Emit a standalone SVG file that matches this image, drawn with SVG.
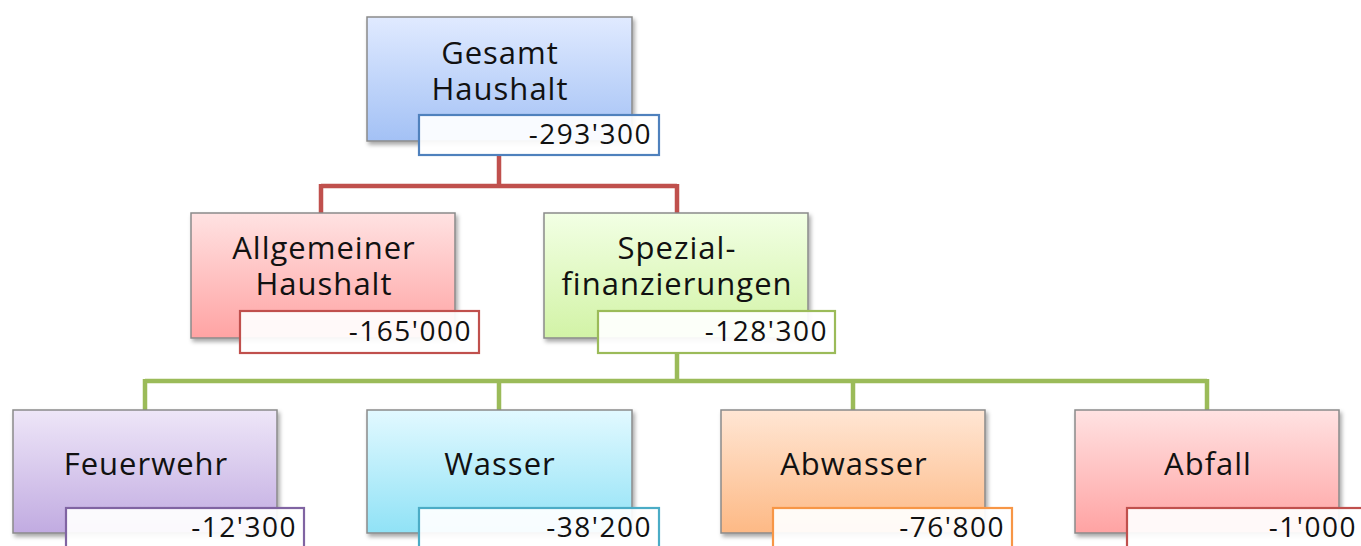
<svg xmlns="http://www.w3.org/2000/svg" width="1361" height="546" viewBox="0 0 1361 546">
<defs>
<linearGradient id="gBlue" x1="0" y1="0" x2="0" y2="1"><stop offset="0" stop-color="#e0eaff"/><stop offset="1" stop-color="#a3c1f5"/></linearGradient>
<linearGradient id="gRed" x1="0" y1="0" x2="0" y2="1"><stop offset="0" stop-color="#ffe2e2"/><stop offset="1" stop-color="#ffa3a3"/></linearGradient>
<linearGradient id="gGreen" x1="0" y1="0" x2="0" y2="1"><stop offset="0" stop-color="#f2ffe4"/><stop offset="1" stop-color="#d2f3a6"/></linearGradient>
<linearGradient id="gPurple" x1="0" y1="0" x2="0" y2="1"><stop offset="0" stop-color="#eee6f8"/><stop offset="1" stop-color="#c1abe1"/></linearGradient>
<linearGradient id="gCyan" x1="0" y1="0" x2="0" y2="1"><stop offset="0" stop-color="#e2f9ff"/><stop offset="1" stop-color="#90e2f6"/></linearGradient>
<linearGradient id="gOrange" x1="0" y1="0" x2="0" y2="1"><stop offset="0" stop-color="#ffe6d4"/><stop offset="1" stop-color="#fdb985"/></linearGradient>
<filter id="sh" x="-10%" y="-10%" width="130%" height="130%"><feDropShadow dx="2" dy="3" stdDeviation="2" flood-color="#000" flood-opacity="0.35"/></filter>
</defs>
<style>
.box{stroke:#8a8a8a;stroke-width:1.5;filter:url(#sh)}
.lbl{stroke-width:2.2;fill:#ffffff;fill-opacity:0.93}
.t{font-family:"Open Sans","Noto Sans",sans-serif;font-size:31px;letter-spacing:1px;fill:#111;text-anchor:middle}
.v{font-family:"Open Sans","Noto Sans",sans-serif;font-size:28px;letter-spacing:1.5px;fill:#111;text-anchor:end}
.red{fill:none;stroke:#c0504d;stroke-width:4.5}
.grn{fill:none;stroke:#9bbb59;stroke-width:4.5}
</style>
<g id="connectors">
<path class="red" d="M499 155 V186 M321 186 H677 M321 184 V213 M677 184 V213"/>
<path class="grn" d="M677 353 V381 M145 381 H1207 M145 379 V410 M499 379 V410 M853 379 V410 M1207 379 V410"/>
</g>
<g id="n-gesamt">
<rect class="box" x="367" y="17" width="265" height="124" fill="url(#gBlue)"/>
<text class="t" x="500" y="64">Gesamt</text>
<text class="t" x="500" y="100">Haushalt</text>
<rect class="lbl" x="419" y="115" width="240" height="40" stroke="#4f81bd"/>
<text class="v" x="652" y="144">-293'300</text>
</g>
<g id="n-allgemein">
<rect class="box" x="191" y="213" width="264" height="125" fill="url(#gRed)"/>
<text class="t" x="324" y="259">Allgemeiner</text>
<text class="t" x="324" y="295">Haushalt</text>
<rect class="lbl" x="240" y="311" width="239" height="42" stroke="#c0504d"/>
<text class="v" x="472" y="341">-165'000</text>
</g>
<g id="n-spezial">
<rect class="box" x="544" y="213" width="264" height="125" fill="url(#gGreen)"/>
<text class="t" x="677" y="259">Spezial-</text>
<text class="t" x="677" y="295">finanzierungen</text>
<rect class="lbl" x="598" y="311" width="237" height="42" stroke="#9bbb59"/>
<text class="v" x="828" y="341">-128'300</text>
</g>
<g id="n-feuerwehr">
<rect class="box" x="13" y="410" width="264" height="123" fill="url(#gPurple)"/>
<text class="t" x="146" y="475">Feuerwehr</text>
<rect class="lbl" x="66" y="508" width="238" height="42" stroke="#8064a2"/>
<text class="v" x="297" y="537">-12'300</text>
</g>
<g id="n-wasser">
<rect class="box" x="367" y="410" width="265" height="123" fill="url(#gCyan)"/>
<text class="t" x="500" y="475">Wasser</text>
<rect class="lbl" x="419" y="508" width="240" height="42" stroke="#4bacc6"/>
<text class="v" x="652" y="537">-38'200</text>
</g>
<g id="n-abwasser">
<rect class="box" x="721" y="410" width="264" height="123" fill="url(#gOrange)"/>
<text class="t" x="854" y="475">Abwasser</text>
<rect class="lbl" x="773" y="508" width="239" height="42" stroke="#f79646"/>
<text class="v" x="1005" y="537">-76'800</text>
</g>
<g id="n-abfall">
<rect class="box" x="1075" y="410" width="264" height="123" fill="url(#gRed)"/>
<text class="t" x="1208" y="475">Abfall</text>
<rect class="lbl" x="1127" y="508" width="240" height="42" stroke="#c0504d"/>
<text class="v" x="1357" y="537">-1'000</text>
</g>
</svg>
